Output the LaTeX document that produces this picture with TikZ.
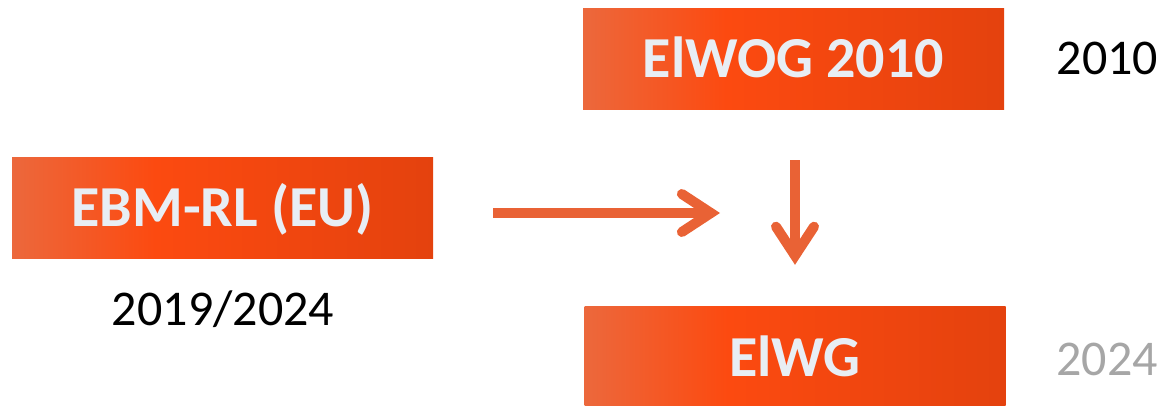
\documentclass[tikz,border=0pt]{standalone}
\usepackage{fontspec}
\setmainfont{Carlito}
\usetikzlibrary{arrows.meta}
\definecolor{lawL}{RGB}{236,104,60}
\definecolor{lawM}{RGB}{252,74,16}
\definecolor{lawR}{RGB}{228,66,14}
\definecolor{flowO}{RGB}{233,98,53}
\definecolor{lawT}{RGB}{232,238,244}
\definecolor{yearG}{RGB}{166,166,166}
\pgfdeclarehorizontalshading{lawshade}{100bp}{color(0bp)=(lawL); color(25bp)=(lawL); color(42bp)=(lawM); color(75bp)=(lawR); color(100bp)=(lawR)}

\begin{document}
\begin{tikzpicture}[x=1pt,y=-1pt,
  law/.style={shading=lawshade,minimum width=421pt,minimum height=101pt,inner sep=0pt,
    text=lawT,text height=37pt,text depth=0pt,font=\fontsize{58}{60}\selectfont\bfseries},
  year/.style={anchor=base,inner sep=0pt,font=\fontsize{50}{52}\selectfont},
  flow/.style={flowO,line width=10pt,-{Straight Barb[length=29pt,width=38pt,line cap=round,line join=miter]}}]
\useasboundingbox (0,0) rectangle (1168,406);
% laws
\node[law] (elwog) at (793.5,59.5) {ElWOG 2010};
\node[law] (ebm) at (222.5,208) {EBM-RL (EU)};
\node[law] (elwg) at (795,357.5) {ElWG};
% years
\node[year] (y2010) at (1107.5,75) {2010};
\node[year] (y2019) at (223,325) {2019/2024};
\node[year,text=yearG] (y2024) at (1107,375) {2024};
% arrows
\coordinate (join) at (720,213);
\draw[flow,shorten <=60pt] ([yshift=-5pt]ebm.east) -- (join);
\draw[flow,shorten <=50pt,shorten >=42pt] ([xshift=1.5pt]elwog.south) -- (elwg.north);
\end{tikzpicture}
\end{document}
